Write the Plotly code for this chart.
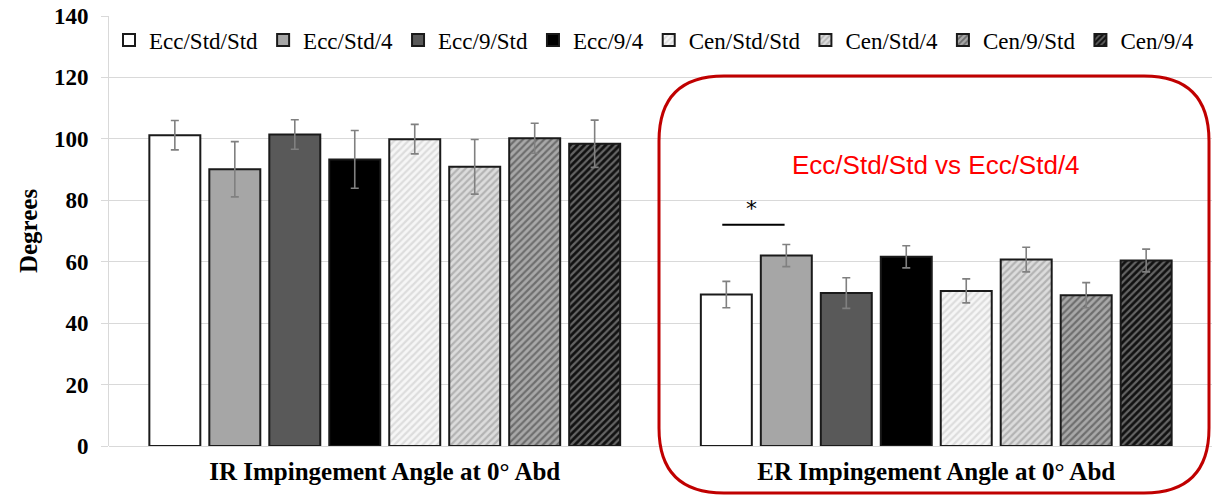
import plotly.graph_objects as go

categories = ["IR Impingement Angle at 0° Abd", "ER Impingement Angle at 0° Abd"]
series_names = ["Ecc/Std/Std", "Ecc/Std/4", "Ecc/9/Std", "Ecc/9/4",
                "Cen/Std/Std", "Cen/Std/4", "Cen/9/Std", "Cen/9/4"]
ecc_std_std = [101.2, 49.3]
ecc_std_4 = [90.1, 62.0]
ecc_9_std = [101.4, 49.8]
ecc_9_4 = [93.3, 61.6]
cen_std_std = [99.9, 50.5]
cen_std_4 = [90.9, 60.7]
cen_9_std = [100.2, 49.1]
cen_9_4 = [98.4, 60.4]
values = [ecc_std_std, ecc_std_4, ecc_9_std, ecc_9_4, cen_std_std, cen_std_4, cen_9_std, cen_9_4]
errors = [[4.8, 4.3], [9.0, 3.6], [4.8, 5.0], [9.4, 3.6],
          [4.8, 3.9], [8.9, 4.0], [4.9, 4.1], [7.7, 3.7]]
y_ticks = [0, 20, 40, 60, 80, 100, 120, 140]

# styles: (fill, pattern shape, pattern fg)
styles = [
    ("#ffffff", "", None),
    ("#a6a6a6", "", None),
    ("#595959", "", None),
    ("#000000", "", None),
    ("#f6f6f6", "/", "#c4c4c4"),
    ("#dcdcdc", "/", "#8a8a8a"),
    ("#a8a8a8", "/", "#333333"),
    ("#111111", "/", "#b8b8b8"),
]

serif = "Liberation Serif, Times New Roman, serif"
fig = go.Figure()
for name, vals, err, (fill, shape, fg) in zip(series_names, values, errors, styles):
    marker = dict(color=fill, line=dict(color="#1a1a1a", width=2))
    if shape:
        marker["pattern"] = dict(shape=shape, fgcolor=fg, bgcolor=fill, size=5, solidity=0.45)
    fig.add_trace(go.Bar(
        x=list(range(len(categories))), y=vals, name=name, marker=marker,
        error_y=dict(type="data", array=err, visible=True, color="#808080", thickness=1.6, width=4),
    ))

# plot area in pixels: x 109..1212, y 16..446
L, R, T, B = 109, 1212, 16, 446
W, H = R - L, B - T
def px(x): return (x - L) / W
def py(y): return (B - y) / H

# red rounded rectangle
x0, x1, y0, y1, r = 659, 1209, 76, 493, 65
path = (f"M {px(x0 + r)},{py(y0)} L {px(x1 - r)},{py(y0)} "
        f"Q {px(x1)},{py(y0)} {px(x1)},{py(y0 + r)} L {px(x1)},{py(y1 - r)} "
        f"Q {px(x1)},{py(y1)} {px(x1 - r)},{py(y1)} L {px(x0 + r)},{py(y1)} "
        f"Q {px(x0)},{py(y1)} {px(x0)},{py(y1 - r)} L {px(x0)},{py(y0 + r)} "
        f"Q {px(x0)},{py(y0)} {px(x0 + r)},{py(y0)} Z")
fig.add_shape(type="path", path=path, xref="paper", yref="paper",
              line=dict(color="#c00000", width=3), fillcolor="rgba(0,0,0,0)")

# significance bar between ER Ecc/Std/Std and Ecc/Std/4
fig.add_shape(type="line", xref="x", yref="y", x0=1 - 0.388, x1=1 - 0.275, y0=72, y1=72,
              line=dict(color="black", width=2))
fig.add_annotation(x=1 - 0.335, y=72.5, xref="x", yref="y", text="*", showarrow=False,
                   yanchor="bottom", font=dict(family="DejaVu Sans", size=22, color="black"))
fig.add_annotation(x=1, y=91.5, xref="x", yref="y", text="Ecc/Std/Std vs Ecc/Std/4", showarrow=False,
                   font=dict(family="Liberation Sans, Arial", size=26, color="#ff0000"))

fig.update_layout(
    width=1216, height=495,
    margin=dict(l=L, r=1216 - R, t=T, b=495 - B),
    plot_bgcolor="white", paper_bgcolor="white",
    barmode="group", bargap=0.13, bargroupgap=0.15,
    legend=dict(orientation="h", x=0.0, y=py(40), xanchor="left", yanchor="middle",
                font=dict(family=serif, size=23, color="black"), bgcolor="rgba(0,0,0,0)",
                traceorder="normal"),
    xaxis=dict(tickmode="array", tickvals=list(range(len(categories))), ticktext=[f"<b>{c}</b>" for c in categories],
               range=[-0.5, 1.5], tickfont=dict(family=serif, size=25, color="black"),
               showline=False, ticks="", showgrid=False, zeroline=False, ticklabelstandoff=8),
    yaxis=dict(range=[0, 140], tickvals=y_ticks, ticktext=[f"<b>{t}</b>" for t in y_ticks],
               tickfont=dict(family=serif, size=23, color="black"),
               title=dict(text="<b>Degrees</b>", font=dict(family=serif, size=25, color="black"), standoff=9),
               showgrid=True, gridcolor="#d9d9d9", gridwidth=1, zeroline=True, zerolinecolor="#d9d9d9",
               zerolinewidth=1, showline=True, linecolor="#d9d9d9", ticks="outside", ticklen=7,
               tickcolor="#d9d9d9", ticklabelstandoff=8),
)
fig.write_html("out.html")
